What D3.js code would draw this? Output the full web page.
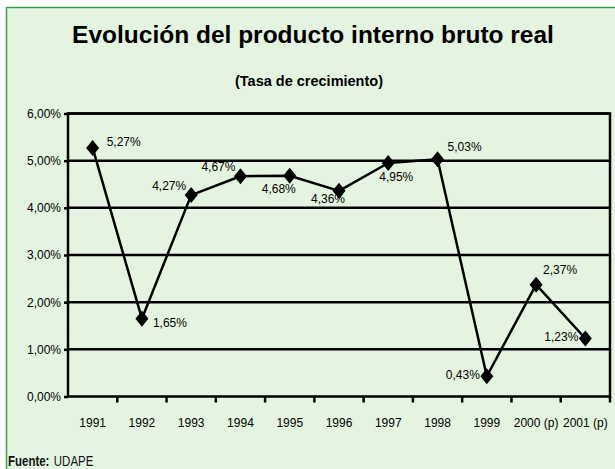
<!DOCTYPE html>
<html>
<head>
<meta charset="utf-8">
<script src="https://cdn.jsdelivr.net/npm/d3@7"></script>
<style>
  html, body { margin: 0; padding: 0; background: #fff; }
  svg { display: block; font-family: "Liberation Sans", Arial, sans-serif; }
</style>
</head>
<body>
<div class="grafico"></div>
<script>
;(function () {
  var W = 615
  var H = 469

  // Datos
  var anios = ['1991', '1992', '1993', '1994', '1995', '1996', '1997', '1998', '1999', '2000 (p)', '2001 (p)']
  var crecimiento = [5.27, 1.65, 4.27, 4.67, 4.68, 4.36, 4.95, 5.03, 0.43, 2.37, 1.23]
  var etiquetas = ['5,27%', '1,65%', '4,27%', '4,67%', '4,68%', '4,36%', '4,95%', '5,03%', '0,43%', '2,37%', '1,23%']
  var ticksY = [0, 1, 2, 3, 4, 5, 6]
  var ticksYLabels = ['0,00%', '1,00%', '2,00%', '3,00%', '4,00%', '5,00%', '6,00%']
  // donde va cada etiqueta respecto al marcador
  var lado = ['r', 'br', 'tl', 'tl', 'b', 'b2', 'br2', 'tr', 'l', 'tr2', 'l']

  var offsets = {
    'r': [14, -2, 'start'],
    'br': [11, 8, 'start'],
    'tl': [-5, -5, 'end'],
    'b': [-11, 17, 'middle'],
    'b2': [-11, 12, 'middle'],
    'br2': [8, 18, 'middle'],
    'tr': [10, -8, 'start'],
    'l': [-7, 3, 'end'],
    'tr2': [7, -11, 'start']
  }

  var svg = d3.select('.grafico').append('svg')
    .attr('width', W)
    .attr('height', H)

  // fondo y marco verde
  svg.append('rect')
    .attr('x', 6).attr('y', 7)
    .attr('width', W - 6).attr('height', H - 7)
    .attr('fill', '#e5f4e1')
  svg.append('path')
    .attr('d', 'M6.5,' + H + 'V7.5H' + W)
    .attr('fill', 'none')
    .attr('stroke', '#3f9f50')
    .attr('stroke-width', 1.5)

  svg.append('text')
    .attr('x', 313).attr('y', 43)
    .attr('text-anchor', 'middle')
    .attr('font-size', 24.5)
    .attr('font-weight', 'bold')
    .text('Evolución del producto interno bruto real')

  svg.append('text')
    .attr('x', 309).attr('y', 86)
    .attr('text-anchor', 'middle')
    .attr('font-size', 14.5)
    .attr('font-weight', 'bold')
    .text('(Tasa de crecimiento)')

  var x = d3.scaleBand().domain(anios).range([68, 610])
  var y = d3.scaleLinear().domain([0, 6]).range([396.5, 113.5])

  var plot = svg.append('g')

  // lineas de division
  plot.selectAll('.grid')
    .data(ticksY.slice(1))
    .enter().append('line')
    .attr('x1', 68).attr('x2', 610)
    .attr('y1', function (d) { return y(d) })
    .attr('y2', function (d) { return y(d) })
    .attr('stroke', '#000')
    .attr('stroke-width', 2.5)

  plot.append('rect')
    .attr('x', 68).attr('y', y(6))
    .attr('width', 610 - 68).attr('height', y(0) - y(6))
    .attr('fill', 'none')
    .attr('stroke', '#000')
    .attr('stroke-width', 2.5)

  // eje X
  var ejeX = svg.append('g')
    .attr('transform', 'translate(0,' + y(0) + ')')
    .call(d3.axisBottom(x).tickSize(0).tickPadding(0))
  ejeX.select('.domain').remove()
  ejeX.selectAll('text')
    .attr('y', 30)
    .attr('dy', 0)
    .attr('font-size', 12)
    .attr('font-family', '"Liberation Sans", Arial, sans-serif')
    .attr('fill', '#000')

  svg.selectAll('.tickX')
    .data(anios.slice(1).concat(['fin']))
    .enter().append('line')
    .attr('x1', function (d, i) { return x(anios[0]) + x.bandwidth() * (i + 1) })
    .attr('x2', function (d, i) { return x(anios[0]) + x.bandwidth() * (i + 1) })
    .attr('y1', y(0)).attr('y2', y(0) + 6)
    .attr('stroke', '#000').attr('stroke-width', 2.5)

  // eje Y
  var ejeY = svg.append('g')
    .attr('transform', 'translate(68,0)')
    .call(d3.axisLeft(y).tickValues(ticksY).tickSize(4).tickPadding(3)
      .tickFormat(function (d, i) { return ticksYLabels[i] }))
  ejeY.select('.domain').remove()
  ejeY.selectAll('line').attr('stroke', '#000').attr('stroke-width', 2.5)
  ejeY.selectAll('text')
    .attr('font-size', 12)
    .attr('font-family', '"Liberation Sans", Arial, sans-serif')
    .attr('fill', '#000')

  // serie
  var cx = function (d, i) { return x(anios[i]) + x.bandwidth() / 2 }
  var cy = function (d) { return y(d) }

  var linea = d3.line()
    .x(function (d, i) { return cx(d, i) })
    .y(cy)

  svg.append('path')
    .datum(crecimiento)
    .attr('d', linea)
    .attr('fill', 'none')
    .attr('stroke', '#000')
    .attr('stroke-width', 2.5)
    .attr('stroke-linejoin', 'round')

  svg.selectAll('.marcador')
    .data(crecimiento)
    .enter().append('path')
    .attr('class', 'marcador')
    .attr('d', 'M0,-8L6.5,0L0,8L-6.5,0Z')
    .attr('transform', function (d, i) { return 'translate(' + cx(d, i) + ',' + cy(d) + ')' })
    .attr('fill', '#000')

  svg.selectAll('.etiqueta')
    .data(crecimiento)
    .enter().append('text')
    .attr('class', 'etiqueta')
    .attr('x', function (d, i) { return cx(d, i) + offsets[lado[i]][0] })
    .attr('y', function (d, i) { return cy(d) + offsets[lado[i]][1] })
    .attr('text-anchor', function (d, i) { return offsets[lado[i]][2] })
    .attr('font-size', 12)
    .attr('fill', '#000')
    .text(function (d, i) { return etiquetas[i] })

  // fuente (letra angosta)
  var fuente = svg.append('text')
    .attr('transform', 'translate(8,466) scale(0.74,1)')
    .attr('font-size', 15.5)
    .attr('fill', '#111')
  fuente.append('tspan').attr('font-weight', 'bold').text('Fuente:')
  fuente.append('tspan').attr('dx', 6).text('UDAPE')
})()
</script>
</body>
</html>
